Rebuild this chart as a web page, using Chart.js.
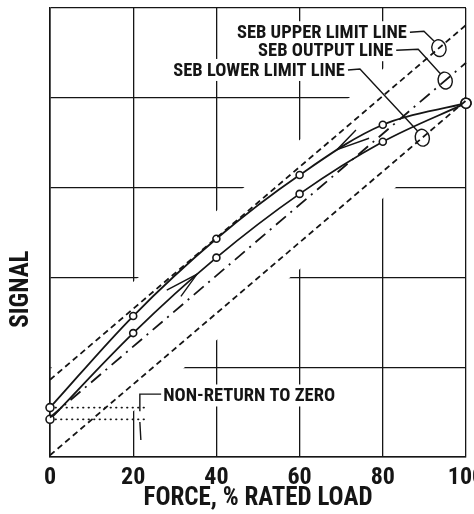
<!DOCTYPE html>
<html>
<head>
<meta charset="utf-8">
<script src="https://cdn.jsdelivr.net/npm/chart.js@4.4.1/dist/chart.umd.min.js"></script>
<style>
  html, body { margin: 0; padding: 0; background: #fff; }
  canvas { display: block; }
</style>
</head>
<body>
<canvas id="chart" width="474" height="514"></canvas>
<script>
// values (signal in grid units, 0..5)
const forcePct = [0, 20, 40, 60, 80, 100];
const signalUp = [0.42, 1.38, 2.22, 2.93, 3.51, 3.94];
const signalDown = [0.55, 1.57, 2.43, 3.14, 3.70, 3.94];
const limitForce = [0, 100];
const upperLimit = [0.86, 4.81];
const outputLine = [0.44, 4.39];
const lowerLimit = [0.02, 3.97];
const zeroOffsetForce = [0, 23];
const xTicks = [0, 20, 40, 60, 80, 100];
const lineLabels = ['SEB UPPER LIMIT LINE', 'SEB OUTPUT LINE', 'SEB LOWER LIMIT LINE'];
const nrzLabel = 'NON-RETURN TO ZERO';
const yTitle = 'SIGNAL';

const INK = '#151515';
const FONT = "'Roboto Condensed', 'DejaVu Sans Condensed', sans-serif";
const NOTE_FONT = 'bold 18.5px ' + FONT;

const pts = (xs, ys) => xs.map((x, i) => ({x: x, y: ys[i]}));
const lerp = (xs, ys, v) => ys[0] + (ys[1] - ys[0]) * (v - xs[0]) / (xs[1] - xs[0]);

// callouts for the three limit lines: label end (data units) and where the oval sits on the line
const callouts = [
  {text: lineLabels[0], x: 85.8, y: 4.73, line: upperLimit, at: 93.5, elbow: 14},
  {text: lineLabels[1], x: 82.5, y: 4.53, line: outputLine, at: 95, elbow: 22},
  {text: lineLabels[2], x: 70.9, y: 4.31, line: lowerLimit, at: 89.5, elbow: 12}
];
const nrz = {x: 27.2, y: 0.685, barX: 21.6, top: [0.70, 0.51], bottom: [0.39, 0.19]};
const arrows = [{ds: 3, at: 69, back: true}, {ds: 4, at: 35.3, back: false}];
const BAND = 0.3;

function bezierAt(chart, dsIndex, xVal) {
  const p = chart.getDatasetMeta(dsIndex).data;
  const px = chart.scales.x.getPixelForValue(xVal);
  for (let i = 0; i < p.length - 1; i++) {
    const a = p[i], d = p[i + 1];
    if (px < a.x || px > d.x) continue;
    const b = {x: a.cp2x, y: a.cp2y}, c = {x: d.cp1x, y: d.cp1y};
    const at = t => {
      const u = 1 - t;
      return {
        x: u*u*u*a.x + 3*u*u*t*b.x + 3*u*t*t*c.x + t*t*t*d.x,
        y: u*u*u*a.y + 3*u*u*t*b.y + 3*u*t*t*c.y + t*t*t*d.y,
        dx: 3*u*u*(b.x-a.x) + 6*u*t*(c.x-b.x) + 3*t*t*(d.x-c.x),
        dy: 3*u*u*(b.y-a.y) + 6*u*t*(c.y-b.y) + 3*t*t*(d.y-c.y)
      };
    };
    let lo = 0, hi = 1;
    for (let k = 0; k < 30; k++) {
      const m = (lo + hi) / 2;
      if (at(m).x < px) lo = m; else hi = m;
    }
    return at((lo + hi) / 2);
  }
  return null;
}

const annotate = {
  id: 'annotate',
  beforeDatasetsDraw(chart) {
    const {ctx, chartArea: a, scales: {x, y}} = chart;
    ctx.save();
    ctx.beginPath();
    ctx.rect(a.left + 1.5, a.top + 1.5, a.width - 3, a.height - 3);
    ctx.clip();
    ctx.fillStyle = '#fff';
    // the grid is broken where the curves run
    ctx.beginPath();
    ctx.moveTo(x.getPixelForValue(limitForce[0]), y.getPixelForValue(upperLimit[0] + BAND));
    ctx.lineTo(x.getPixelForValue(limitForce[1]), y.getPixelForValue(upperLimit[1] + BAND));
    ctx.lineTo(x.getPixelForValue(limitForce[1]), y.getPixelForValue(lowerLimit[1] - BAND));
    ctx.lineTo(x.getPixelForValue(limitForce[0]), y.getPixelForValue(lowerLimit[0] - BAND));
    ctx.closePath();
    ctx.fill();
    ctx.font = NOTE_FONT;
    callouts.forEach(c => {
      const w = ctx.measureText(c.text).width;
      const px = x.getPixelForValue(c.x), py = y.getPixelForValue(c.y);
      ctx.fillRect(px - w - 4, py - 11, w + 8, 22);
    });
    const w = ctx.measureText(nrzLabel).width;
    ctx.fillRect(x.getPixelForValue(nrz.x) - 4, y.getPixelForValue(nrz.y) - 11, w + 8, 22);
    ctx.restore();
  },
  afterDatasetsDraw(chart) {
    const {ctx, chartArea: area, scales: {x, y}} = chart;
    ctx.save();
    ctx.strokeStyle = INK;
    ctx.fillStyle = INK;
    ctx.lineWidth = 1.4;
    ctx.font = NOTE_FONT;
    ctx.textBaseline = 'middle';

    callouts.forEach(c => {
      const px = x.getPixelForValue(c.x), py = y.getPixelForValue(c.y);
      ctx.textAlign = 'right';
      ctx.fillText(c.text, px, py + 1);
      const ex = x.getPixelForValue(c.at), ey = y.getPixelForValue(lerp(limitForce, c.line, c.at));
      ctx.beginPath();
      ctx.ellipse(ex, ey, 7, 8.5, -0.25, 0, Math.PI * 2);
      ctx.stroke();
      ctx.beginPath();
      ctx.moveTo(px + 3, py);
      ctx.lineTo(px + 3 + c.elbow, py - 1);
      ctx.lineTo(ex - 5, ey - 7);
      ctx.stroke();
    });

    // non-return to zero note
    const nx = x.getPixelForValue(nrz.x), ny = y.getPixelForValue(nrz.y);
    ctx.textAlign = 'left';
    ctx.fillText(nrzLabel, nx, ny + 1);
    const bx = x.getPixelForValue(nrz.barX);
    ctx.beginPath();
    ctx.moveTo(nx - 2, y.getPixelForValue(nrz.top[0]));
    ctx.lineTo(bx, y.getPixelForValue(nrz.top[0]));
    ctx.lineTo(bx, y.getPixelForValue(nrz.top[1]));
    ctx.moveTo(bx, y.getPixelForValue(nrz.bottom[0]));
    ctx.lineTo(bx + 1, y.getPixelForValue(nrz.bottom[1]));
    ctx.stroke();

    // direction arrows on the curves
    arrows.forEach(ar => {
      const p = bezierAt(chart, ar.ds, ar.at);
      if (!p) return;
      let ang = Math.atan2(p.dy, p.dx);
      if (!ar.back) ang += Math.PI;
      const spread = 0.23, len = 34;
      ctx.beginPath();
      ctx.moveTo(p.x + Math.cos(ang + spread) * len, p.y + Math.sin(ang + spread) * len);
      ctx.lineTo(p.x, p.y);
      ctx.lineTo(p.x + Math.cos(ang - spread) * len * 0.8, p.y + Math.sin(ang - spread) * len * 0.8);
      ctx.stroke();
    });

    // y axis title sits below the middle of the axis in the original
    ctx.translate(area.left - 28, y.getPixelForValue(1.87));
    ctx.rotate(-Math.PI / 2);
    ctx.textAlign = 'center';
    ctx.font = 'bold 25px ' + FONT;
    ctx.fillText(yTitle, 0, 0);
    ctx.restore();
  }
};

const curveStyle = {
  borderColor: INK, borderWidth: 1.8, tension: 0.35,
  pointRadius: [4, 3.5, 3.5, 3.5, 3.5, 5], pointBackgroundColor: '#fff',
  pointBorderColor: INK, pointBorderWidth: 1.6, clip: false
};
const straight = {borderColor: INK, borderWidth: 1.8, pointRadius: 0, clip: false};

new Chart(document.getElementById('chart'), {
  type: 'line',
  data: {
    datasets: [
      Object.assign({label: 'upper limit', data: pts(limitForce, upperLimit), borderDash: [6, 4]}, straight),
      Object.assign({label: 'output', data: pts(limitForce, outputLine), borderDash: [13, 6, 2, 6]}, straight),
      Object.assign({label: 'lower limit', data: pts(limitForce, lowerLimit), borderDash: [6, 4]}, straight),
      Object.assign({label: 'decreasing', data: pts(forcePct, signalDown)}, curveStyle),
      Object.assign({label: 'increasing', data: pts(forcePct, signalUp)}, curveStyle),
      {data: pts(zeroOffsetForce, [signalDown[0], signalDown[0]]), borderColor: INK, borderWidth: 1.8,
       borderDash: [0.5, 5], borderCapStyle: 'round', pointRadius: 0},
      {data: pts(zeroOffsetForce, [signalUp[0], signalUp[0]]), borderColor: INK, borderWidth: 1.8,
       borderDash: [0.5, 5], borderCapStyle: 'round', pointRadius: 0}
    ]
  },
  options: {
    responsive: false,
    animation: false,
    devicePixelRatio: 1,
    layout: {padding: {top: 8, right: 8, left: 0, bottom: 0}},
    plugins: {legend: {display: false}, tooltip: {enabled: false}},
    scales: {
      x: {
        type: 'linear', min: 0, max: 100,
        afterBuildTicks: s => { s.ticks = xTicks.map(v => ({value: v})); },
        afterFit: s => { s.height = 57; s.paddingLeft = 0; s.paddingRight = 0; },
        grid: {color: INK, lineWidth: 1.3, drawTicks: false},
        border: {color: INK, width: 1.6},
        ticks: {color: INK, font: {family: FONT, size: 24, weight: 'bold'}, padding: 7, maxRotation: 0, autoSkip: false},
        title: {display: true, text: 'FORCE, % RATED LOAD', color: INK,
                font: {family: FONT, size: 25, weight: 'bold'}, padding: {top: 0, bottom: 0}}
      },
      y: {
        min: 0, max: 5,
        afterFit: s => { s.width = 50; },
        grid: {color: INK, lineWidth: 1.3, drawTicks: false},
        border: {color: INK, width: 1.6},
        ticks: {display: false, stepSize: 1},
        title: {display: false}
      }
    }
  },
  plugins: [annotate]
});
</script>
</body>
</html>
